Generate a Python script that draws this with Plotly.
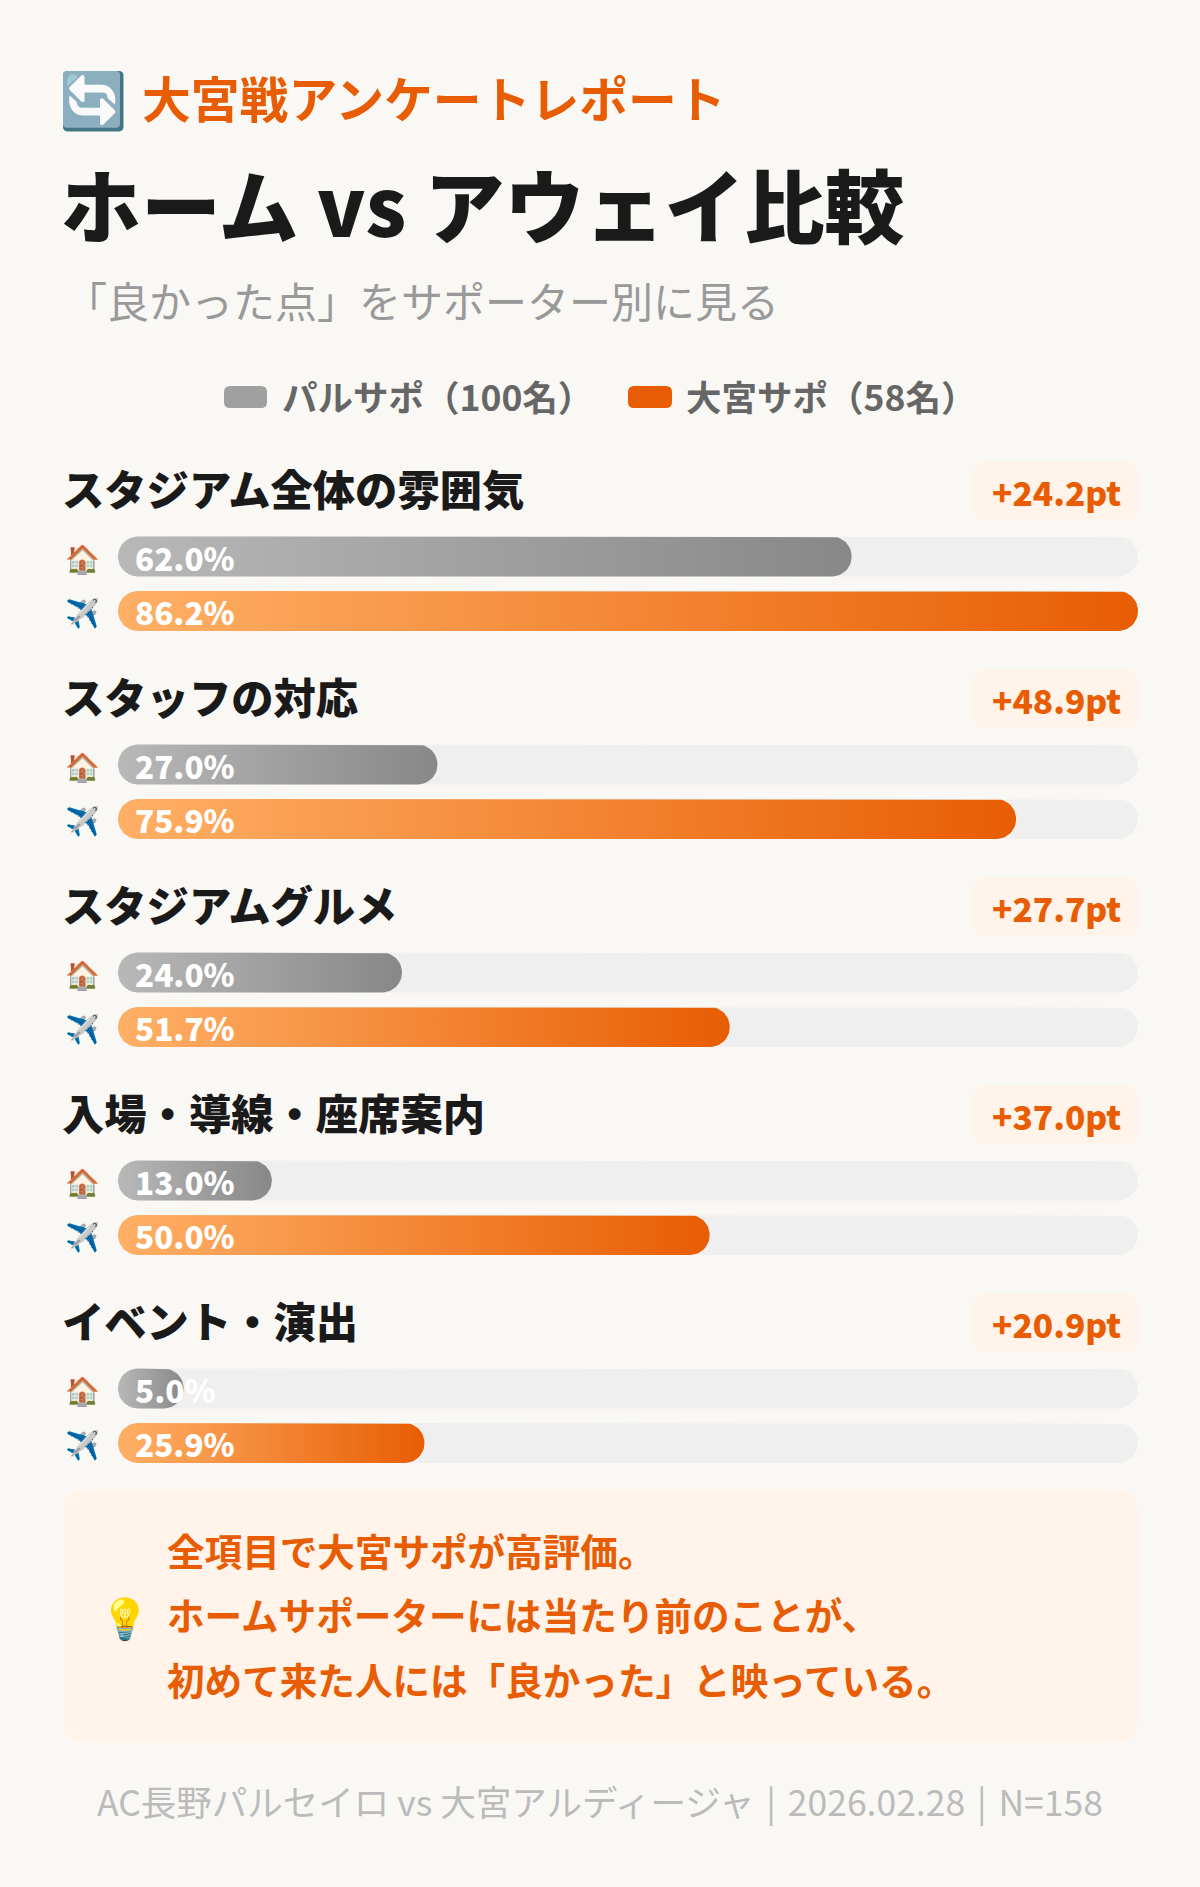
"""
Home vs away satisfaction comparison card, drawn with Plotly.
"""

import numpy as np
import plotly.graph_objects as go

# Data
categories = ["スタジアム全体の雰囲気", "スタッフの対応", "スタジアムグルメ", "入場・導線・座席案内", "イベント・演出"]
home_values = [62.0, 27.0, 24.0, 13.0, 5.0]
away_values = [86.2, 75.9, 51.7, 50.0, 25.9]
diff_labels = ["+24.2pt", "+48.9pt", "+27.7pt", "+37.0pt", "+20.9pt"]
legend_labels = ["パルサポ（100名）", "大宮サポ（58名）"]
insight_lines = ["全項目で大宮サポが高評価。", "ホームサポーターには当たり前のことが、", "初めて来た人には「良かった」と映っている。"]
eyebrow_text = "大宮戦アンケートレポート"
title_text = "ホーム vs アウェイ比較"
subtitle_text = "「良かった点」をサポーター別に見る"
footer_text = "AC長野パルセイロ vs 大宮アルディージャ\u2004|\u20042026.02.28\u2004|\u2004N=158"

WIDTH, HEIGHT = 1200, 1887
FONT = "Noto Sans CJK JP"
BG = "#FAF8F5"
ORANGE = "#E85D04"
TINT = "#FFF3EA"
TRACK = "#EFEFEF"
INK = "#1A1A1A"

BAR_LEFT, BAR_RIGHT = 118, 1138
BAR_H = 40
RADIUS = 20
X_MAX = max(away_values)
# the card keeps very short bars at a minimum width
MIN_BAR = 5.55
PX_PER_UNIT = (BAR_RIGHT - BAR_LEFT) / X_MAX

GROUP_TOP = 490
GROUP_PITCH = 208
HOME_OFFSET = 66.5
AWAY_OFFSET = 121


def pill_outline(x_end, y_center):
    """Closed outline of a fully rounded bar from 0 to x_end, in axis units."""
    rx = RADIUS / PX_PER_UNIT
    a = np.linspace(-np.pi / 2, np.pi / 2, 25)
    xs = np.concatenate([rx + rx * np.cos(a + np.pi), x_end - rx + rx * np.cos(a), [rx]])
    ys = np.concatenate([y_center - RADIUS * np.sin(a), y_center + RADIUS * np.sin(a), [y_center + RADIUS]])
    return xs, ys


def round_rect(x0, y0, x1, y1, r):
    """SVG path of a rounded box, pixel input converted to paper coordinates."""
    fx = lambda v: v / WIDTH
    fy = lambda v: 1 - v / HEIGHT
    return (
        f"M {fx(x0 + r)} {fy(y0)} L {fx(x1 - r)} {fy(y0)} Q {fx(x1)} {fy(y0)} {fx(x1)} {fy(y0 + r)} "
        f"L {fx(x1)} {fy(y1 - r)} Q {fx(x1)} {fy(y1)} {fx(x1 - r)} {fy(y1)} "
        f"L {fx(x0 + r)} {fy(y1)} Q {fx(x0)} {fy(y1)} {fx(x0)} {fy(y1 - r)} "
        f"L {fx(x0)} {fy(y0 + r)} Q {fx(x0)} {fy(y0)} {fx(x0 + r)} {fy(y0)} Z"
    )


def box(x0, y0, x1, y1, r, color):
    return dict(type="path", xref="paper", yref="paper", path=round_rect(x0, y0, x1, y1, r),
                fillcolor=color, line_width=0, layer="below")


def label(text, x, y, size, color, weight=400, anchor="left"):
    return dict(text=text, x=x / WIDTH, y=1 - y / HEIGHT, xref="paper", yref="paper",
                xanchor=anchor, yanchor="middle", showarrow=False,
                font=dict(family=FONT, size=size, color=color, weight=weight))


def add_bar(fig, value, y_center, colors, name):
    # track first, then the gradient fill
    xs, ys = pill_outline(X_MAX, y_center)
    fig.add_trace(go.Scatter(x=xs, y=ys, mode="lines", line_width=0, fill="toself",
                             fillcolor=TRACK, hoverinfo="skip"))
    xs, ys = pill_outline(max(value, MIN_BAR), y_center)
    fig.add_trace(go.Scatter(
        x=xs, y=ys, mode="lines", line_width=0, fill="toself", hoveron="fills",
        fillgradient=dict(type="horizontal", colorscale=[[0, colors[0]], [1, colors[1]]]),
        name=name, text=f"{value:.1f}%", hoverinfo="name+text",
    ))


fig = go.Figure()
shapes = []
annotations = []

# Header
annotations.append(label("🔄", 93, 96, 55, "#5B8DB8", anchor="center"))
annotations.append(label(eyebrow_text, 140, 96, 48.8, ORANGE, 700))
annotations.append(label(title_text, 59, 202, 80, INK, 900))
annotations.append(label(subtitle_text, 63, 299, 42, "#999999"))

# Legend
shapes.append(box(224, 386, 267, 408, 6, "#A0A0A0"))
shapes.append(box(628, 386, 672, 408, 6, ORANGE))
annotations.append(label(legend_labels[0], 280, 395, 35.5, "#666666", 700))
annotations.append(label(legend_labels[1], 684, 395, 35.5, "#666666", 700))

# Groups
for i, cat in enumerate(categories):
    top = GROUP_TOP + i * GROUP_PITCH
    annotations.append(label(cat, 60, top - 3, 42.3, INK, 900))
    shapes.append(box(973, top - 28, 1138, top + 30, 12, TINT))
    annotations.append(label(diff_labels[i], 1056, top + 1, 33.5, ORANGE, 900, "center"))

    home_y = top + HOME_OFFSET
    away_y = top + AWAY_OFFSET
    add_bar(fig, home_values[i], home_y, ("#B8B8B8", "#888888"), "パルサポ")
    add_bar(fig, away_values[i], away_y, ("#FFB066", ORANGE), "大宮サポ")

    annotations.append(label("🏠", 82, home_y, 28, INK, anchor="center"))
    annotations.append(label("✈️", 82, away_y, 28, INK, anchor="center"))
    annotations.append(label(f"{home_values[i]:.1f}%", 133, home_y, 31.5, "white", 900))
    annotations.append(label(f"{away_values[i]:.1f}%", 133, away_y, 31.5, "white", 900))

# Callout
shapes.append(box(63, 1489, 1138, 1743, 24, TINT))
annotations.append(label("💡", 125, 1616, 40, "#F2C94C", anchor="center"))
for line, y in zip(insight_lines, [1549, 1613, 1678]):
    annotations.append(label(line, 165, y, 37.6, ORANGE, 700))

# Footer
annotations.append(label(footer_text, 600, 1800, 35.5, "#BBBBBB", anchor="center"))

fig.update_layout(
    width=WIDTH,
    height=HEIGHT,
    margin=dict(l=0, r=0, t=0, b=0),
    paper_bgcolor=BG,
    plot_bgcolor=BG,
    showlegend=False,
    shapes=shapes,
    annotations=annotations,
    xaxis=dict(domain=[BAR_LEFT / WIDTH, BAR_RIGHT / WIDTH], range=[0, X_MAX], visible=False, fixedrange=True),
    yaxis=dict(domain=[0, 1], range=[HEIGHT, 0], visible=False, fixedrange=True),
)

fig.write_html("out.html", config={"displayModeBar": False},
               post_script="document.body.style.margin='0';document.body.style.background='#FAF8F5';")
